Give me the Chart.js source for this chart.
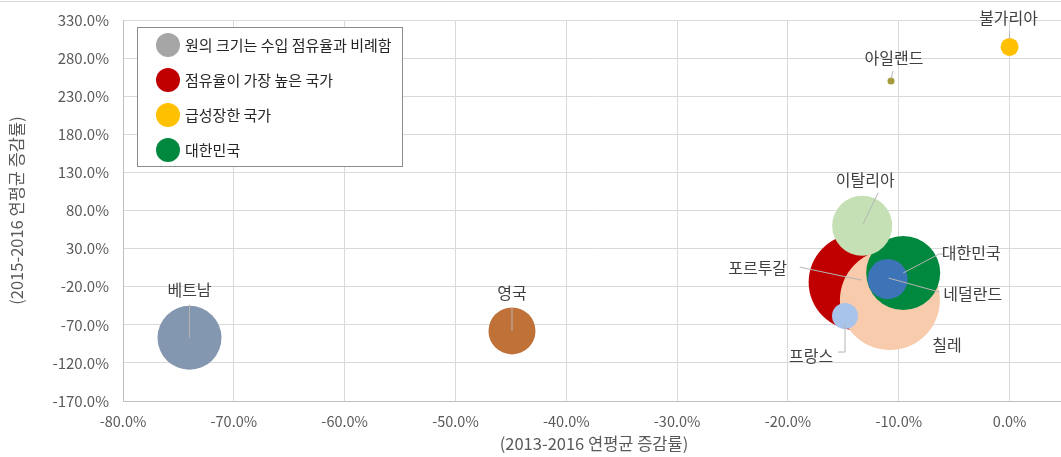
<!DOCTYPE html>
<html>
<head>
<meta charset="utf-8">
<script src="https://cdn.jsdelivr.net/npm/chart.js@4.4.1/dist/chart.umd.min.js"></script>
<style>
  html, body { margin: 0; padding: 0; background: #ffffff; overflow: hidden; }
  #wrap { position: relative; width: 1061px; height: 457px; overflow: hidden; }
  #topline { position: absolute; left: 0; top: 1px; width: 1061px; height: 0; border-top: 1px solid #d9d9d9; }
  canvas { position: absolute; left: 0; top: -30px; }
</style>
</head>
<body>
<div id="wrap">
  <canvas id="c" width="1115" height="487"></canvas>
  <div id="topline"></div>
</div>
<script>
// ---- data ----
const countries = ['포르투갈', '칠레', '대한민국', '네덜란드', '이탈리아', '프랑스', '베트남', '영국', '아일랜드', '불가리아'];
const growth2013_2016 = [-13.8, -10.8, -9.6, -11.0, -13.3, -14.85, -74.0, -44.9, -10.7, 0.0];
const growth2015_2016 = [-14, -37.5, -2, -10, 60, -58.5, -87, -78, 250, 294.6];
const importShareSize = [48, 50, 37, 20, 30, 13, 32, 23.5, 3.5, 9];
const xTickValues = [-80, -70, -60, -50, -40, -30, -20, -10, 0];
const yTickValues = [-170, -120, -70, -20, 30, 80, 130, 180, 230, 280, 330];
const legendLabels = ['원의 크기는 수입 점유율과 비례함', '점유율이 가장 높은 국가', '급성장한 국가', '대한민국'];
const xAxisTitle = '(2013-2016 연평균 증감률)';
const yAxisTitle = '(2015-2016 연평균 증감률)';

// ---- styles ----
const bubbleColors = ['#C00000', '#F8CBAD', '#00883E', '#3D74B7', '#C5E0B4', '#A9C4EA', '#8497B0', '#BF7138', '#A69A3C', '#FFC000'];
const legendColors = ['#A6A6A6', '#C00000', '#FFC000', '#00883E'];
// label styles: text offset [dx,dy] from bubble centre, leader polyline offsets
const labelStyles = [
  { t: [-99, -14], line: [[-57, -15], [5, -2]] },
  { t: [57, 45], line: null },
  { t: [68, -20], line: [[0, 0], [36, -19], [40, -19]] },
  { t: [85, 15], line: [[1, -1], [52, 13]] },
  { t: [3, -46], line: [[16, -33], [1, -2]] },
  { t: [-34, 40], line: [[0, 8], [0, 36], [-7, 36]] },
  { t: [0, -48], line: [[0, -33], [0, 0]] },
  { t: [0, -38], line: [[0, -23], [0, 0]] },
  { t: [3, -23], line: [[2, -10], [0, -2]] },
  { t: [-1, -29], line: [[0, -16], [0, -8]] }
];

const FONT = "'Noto Sans CJK KR', 'Noto Sans', sans-serif";
const PAGE_OFFSET_Y = 30; // canvas is shifted up by this much

const points = countries.map((c, i) => ({ x: growth2013_2016[i], y: growth2015_2016[i], r: importShareSize[i] }));

const labelPlugin = {
  id: 'bubbleLabels',
  afterDatasetsDraw(chart) {
    const ctx = chart.ctx;
    const meta = chart.getDatasetMeta(0);
    ctx.save();
    // leader lines
    ctx.strokeStyle = '#b5b5b5';
    ctx.lineWidth = 1;
    meta.data.forEach((el, i) => {
      const s = labelStyles[i];
      if (!s.line) return;
      ctx.beginPath();
      s.line.forEach((p, k) => {
        const px = el.x + p[0], py = el.y + p[1];
        if (k === 0) ctx.moveTo(px, py); else ctx.lineTo(px, py);
      });
      ctx.stroke();
    });
    // texts
    ctx.fillStyle = '#404040';
    ctx.font = '16px ' + FONT;
    ctx.textAlign = 'center';
    ctx.textBaseline = 'middle';
    meta.data.forEach((el, i) => {
      const s = labelStyles[i];
      ctx.fillText(countries[i], el.x + s.t[0], el.y + s.t[1]);
    });
    // legend box
    const oy = PAGE_OFFSET_Y;
    const bx = 137.5, by = 27.5 + oy, bw = 265, bh = 139;
    ctx.fillStyle = '#ffffff';
    ctx.fillRect(bx, by, bw, bh);
    ctx.strokeStyle = '#8c8c8c';
    ctx.strokeRect(bx, by, bw, bh);
    ctx.textAlign = 'left';
    ctx.font = '15px ' + FONT;
    legendLabels.forEach((lab, i) => {
      const cy = 45 + oy + i * 35;
      ctx.beginPath();
      ctx.fillStyle = legendColors[i];
      ctx.arc(168, cy, 12, 0, Math.PI * 2);
      ctx.fill();
      ctx.fillStyle = '#262626';
      ctx.fillText(lab, 185, cy);
    });
    ctx.restore();
  }
};

new Chart(document.getElementById('c'), {
  type: 'bubble',
  data: {
    datasets: [{
      data: points,
      backgroundColor: bubbleColors,
      borderWidth: 0,
      hoverBorderWidth: 0
    }]
  },
  options: {
    responsive: false,
    animation: false,
    events: [],
    layout: { padding: { top: 50, right: 50, left: 0, bottom: 0 } },
    plugins: { legend: { display: false }, tooltip: { enabled: false } },
    scales: {
      x: {
        type: 'linear',
        min: -80,
        max: 5,
        afterBuildTicks(scale) { scale.ticks = xTickValues.map(v => ({ value: v })); },
        afterFit(scale) { scale.height = 56; },
        grid: { color: '#d9d9d9', drawTicks: false },
        border: { color: '#bfbfbf' },
        ticks: {
          padding: 12,
          color: '#595959',
          font: { family: FONT, size: 14.5 },
          maxRotation: 0,
          autoSkip: false,
          callback: v => v.toFixed(1) + '%'
        },
        title: {
          display: true,
          text: xAxisTitle,
          color: '#595959',
          font: { family: FONT, size: 16.5 },
          padding: { top: 0, bottom: 3 }
        }
      },
      y: {
        type: 'linear',
        min: -170,
        max: 330,
        afterBuildTicks(scale) { scale.ticks = yTickValues.map(v => ({ value: v })); },
        afterFit(scale) { scale.width = 123; },
        grid: { color: '#d9d9d9', drawTicks: false },
        border: { color: '#bfbfbf' },
        ticks: {
          padding: 14,
          color: '#595959',
          font: { family: FONT, size: 15 },
          autoSkip: false,
          callback: v => v.toFixed(1) + '%'
        },
        title: {
          display: true,
          text: yAxisTitle,
          color: '#595959',
          font: { family: FONT, size: 16.5 },
          padding: { top: 7, bottom: 0 }
        }
      }
    }
  },
  plugins: [labelPlugin]
});
</script>
</body>
</html>
